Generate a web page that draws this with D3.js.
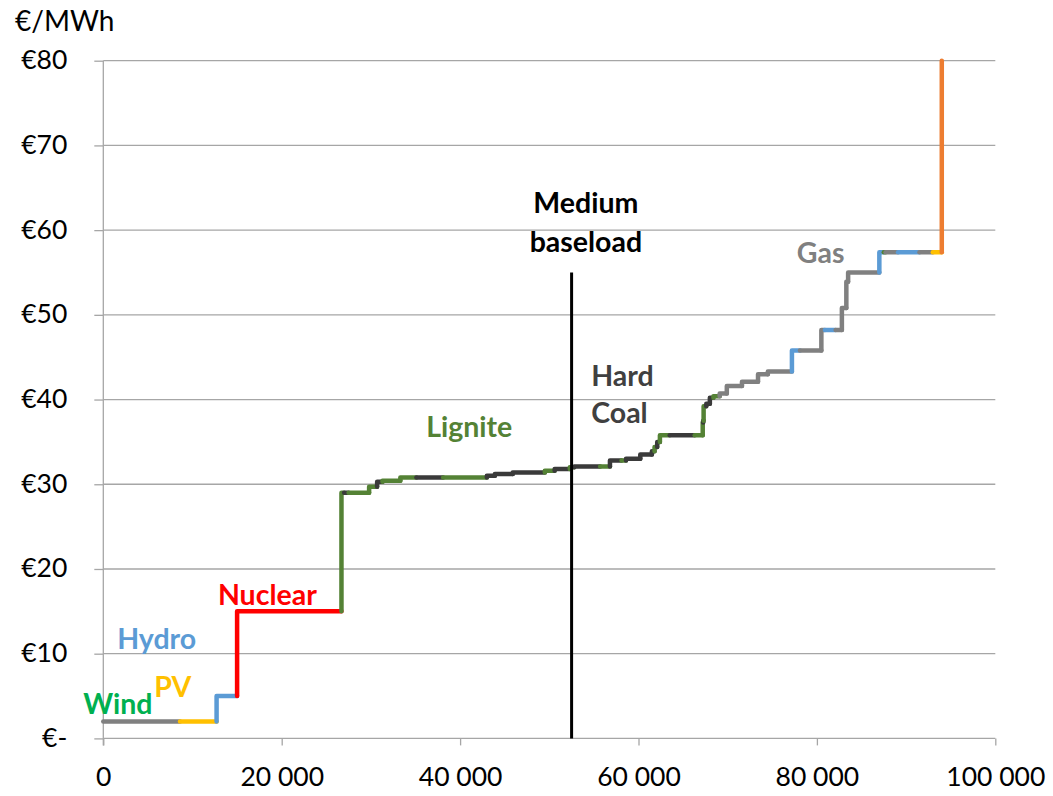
<!DOCTYPE html>
<html>
<head>
<meta charset="utf-8">
<script src="https://cdn.jsdelivr.net/npm/d3@7"></script>
<style>
  html, body { margin: 0; padding: 0; background: #fff; }
  svg { display: block; }
  text { font-family: Lato, "Open Sans", sans-serif; }
</style>
</head>
<body>
<svg id="chart" width="1053" height="796"></svg>
<script>
// Merit order: each step starts at a cumulative capacity (MW) and has a marginal price (€/MWh)
const stepStartMW = [0, 8600, 12700, 15000, 26700, 27000, 27500, 29800, 30700, 31300,
  33300, 35100, 38100, 43000, 43900, 45900, 49500, 50600, 52300, 52800,
  55700, 56800, 58100, 58600, 60200, 61500, 61800, 62100, 62400, 63500,
  66300, 67200, 67250, 67300, 67600, 68000, 68400, 69100, 69900, 71600,
  73400, 74500, 77200, 78100, 80500, 80900, 82100, 82800, 83300, 83500,
  87000, 87500, 87700, 89100, 91500, 93000, 94000];
const stepPrice = [2.0, 2.0, 5.0, 15.0, 29.0, 29.0, 29.0, 29.7, 30.3, 30.4,
  30.8, 30.8, 30.8, 31.0, 31.2, 31.4, 31.6, 31.8, 32.0, 32.1,
  32.1, 32.8, 32.8, 33.0, 33.5, 33.9, 34.4, 35.0, 35.8, 35.8,
  35.8, 37.3, 37.5, 39.2, 39.5, 40.2, 40.4, 40.7, 41.6, 42.1,
  43.0, 43.3, 45.8, 45.8, 48.2, 48.2, 48.2, 50.8, 53.9, 55.0,
  57.4, 57.4, 57.4, 57.4, 57.4, 57.4, 80];
const stepFuel = ["Wind", "PV", "Hydro", "Nuclear", "Lignite", "Hard Coal", "Lignite", "Lignite", "Hard Coal", "Lignite",
  "Lignite", "Hard Coal", "Lignite", "Hard Coal", "Hard Coal", "Hard Coal", "Lignite", "Hard Coal", "Lignite", "Hard Coal",
  "Lignite", "Hard Coal", "Lignite", "Hard Coal", "Hard Coal", "Hard Coal", "Lignite", "Hard Coal", "Lignite", "Hard Coal",
  "Lignite", "Lignite", "Hard Coal", "Lignite", "Hard Coal", "Hard Coal", "Lignite", "Gas", "Gas", "Gas",
  "Gas", "Gas", "Hydro", "Gas", "Gas", "Hydro", "Gas", "Gas", "Gas", "Gas",
  "Hydro", "Lignite", "Gas", "Hydro", "Gas", "PV", "Oil"];
const totalCapacityMW = 94000;

const fuelNames  = ["Wind", "PV", "Hydro", "Nuclear", "Lignite", "Hard Coal", "Gas", "Oil"];
const lineColors = ["#808080", "#FFC000", "#5B9BD5", "#FF0000", "#548235", "#3A3A3A", "#808080", "#ED7D31"];
const textColors = ["#00B050", "#FFC000", "#5B9BD5", "#FF0000", "#548235", "#404040", "#808080", "#ED7D31"];

// Demand line for a medium baseload hour
const baseloadMW = 52500;
const baseloadTopPrice = 55;

// Axis ticks
const xTicks = [0, 20000, 40000, 60000, 80000, 100000];
const yTicks = [0, 10, 20, 30, 40, 50, 60, 70, 80];

// Technology labels placed in data space (MW, €/MWh at the text baseline)
const techLabels = [
  { lines: ["Wind"], fuel: "Wind", mw: -2250, price: 2.9, anchor: "start" },
  { lines: ["PV"], fuel: "PV", mw: 5700, price: 4.9, anchor: "start" },
  { lines: ["Hydro"], fuel: "Hydro", mw: 1550, price: 10.5, anchor: "start" },
  { lines: ["Nuclear"], fuel: "Nuclear", mw: 12850, price: 15.7, anchor: "start" },
  { lines: ["Lignite"], fuel: "Lignite", mw: 36200, price: 35.6, anchor: "start" },
  { lines: ["Hard", "Coal"], fuel: "Hard Coal", mw: 54700, price: 41.6, anchor: "start" },
  { lines: ["Gas"], fuel: "Gas", mw: 77750, price: 56.1, anchor: "start" }
];
const demandLabel = { lines: ["Medium", "baseload"], mw: 54100, price: 62.0 };

const svg = d3.select("#chart");
const margin = { left: 103.3, right: 57.7, top: 60.7, bottom: 57.6 };
const W = +svg.attr("width"), H = +svg.attr("height");

const x = d3.scaleLinear().domain([0, 100000]).range([margin.left, W - margin.right]);
const y = d3.scaleLinear().domain([0, 80]).range([H - margin.bottom, margin.top]);
const color = d3.scaleOrdinal().domain(fuelNames).range(lineColors);
const textColor = d3.scaleOrdinal().domain(fuelNames).range(textColors);

// Horizontal gridlines
svg.append("g")
  .selectAll("line")
  .data(yTicks)
  .join("line")
  .attr("x1", x(0)).attr("x2", x(100000))
  .attr("y1", d => y(d)).attr("y2", d => y(d))
  .attr("stroke", "#A6A6A6").attr("stroke-width", 1.3);

// Y axis
const yAxis = svg.append("g")
  .attr("transform", `translate(${x(0)},0)`)
  .call(d3.axisLeft(y).tickValues(yTicks).tickSize(9).tickPadding(27)
    .tickFormat(d => d === 0 ? "€-" : "€" + d));
yAxis.select(".domain").attr("stroke", "#A6A6A6").attr("stroke-width", 1.3)
  .attr("d", `M0,${y(80)}V${y(0) + 7}`);
yAxis.selectAll(".tick line").attr("stroke", "#A6A6A6").attr("stroke-width", 1.3);
yAxis.selectAll(".tick text").attr("font-size", 26.5).attr("fill", "#000")
  .attr("font-family", "Lato").attr("dy", "0.30em");

// X axis
const xAxis = svg.append("g")
  .attr("transform", `translate(0,${y(0)})`)
  .call(d3.axisBottom(x).tickValues(xTicks).tickSize(7).tickPadding(22)
    .tickFormat(d => d3.format(",")(d).replace(/,/g, " ")));
xAxis.select(".domain").remove();
xAxis.selectAll(".tick line").attr("stroke", "#A6A6A6").attr("stroke-width", 1.3);
xAxis.selectAll(".tick text").attr("font-size", 26.5).attr("fill", "#000").attr("font-family", "Lato");

// Unit title
svg.append("text")
  .attr("x", 15).attr("y", 31)
  .attr("font-size", 28).attr("fill", "#000")
  .text("€/MWh");

// Merit order curve: each step draws its riser from the previous price, then its flat run
const steps = stepStartMW.map((mw, i) => ({
  start: mw,
  end: i + 1 < stepStartMW.length ? stepStartMW[i + 1] : totalCapacityMW,
  price: stepPrice[i],
  prev: i === 0 ? stepPrice[0] : stepPrice[i - 1],
  fuel: stepFuel[i]
}));

svg.append("g")
  .attr("fill", "none")
  .attr("stroke-width", 4.5)
  .attr("stroke-linecap", "round")
  .attr("stroke-linejoin", "round")
  .selectAll("path")
  .data(steps)
  .join("path")
  .attr("stroke", d => color(d.fuel))
  .attr("d", d => {
    const p = d3.path();
    p.moveTo(x(d.start), y(d.prev));
    p.lineTo(x(d.start), y(d.price));
    p.lineTo(x(d.end), y(d.price));
    return p.toString();
  });

// Demand line
svg.append("line")
  .attr("x1", x(baseloadMW)).attr("x2", x(baseloadMW))
  .attr("y1", y(baseloadTopPrice)).attr("y2", y(0))
  .attr("stroke", "#000").attr("stroke-width", 3);

// Labels
const lineGap = 37;
techLabels.forEach(l => {
  const t = svg.append("text")
    .attr("x", x(l.mw)).attr("y", y(l.price))
    .attr("text-anchor", l.anchor)
    .attr("font-size", 28.5).attr("font-weight", "bold")
    .attr("fill", textColor(l.fuel));
  l.lines.forEach((s, k) => {
    t.append("tspan").attr("x", x(l.mw)).attr("dy", k === 0 ? 0 : lineGap).text(s);
  });
});

const dt = svg.append("text")
  .attr("x", x(demandLabel.mw)).attr("y", y(demandLabel.price))
  .attr("text-anchor", "middle")
  .attr("font-size", 28.5).attr("font-weight", "bold").attr("fill", "#000");
demandLabel.lines.forEach((s, k) => {
  dt.append("tspan").attr("x", x(demandLabel.mw)).attr("dy", k === 0 ? 0 : 39).text(s);
});
</script>
</body>
</html>
